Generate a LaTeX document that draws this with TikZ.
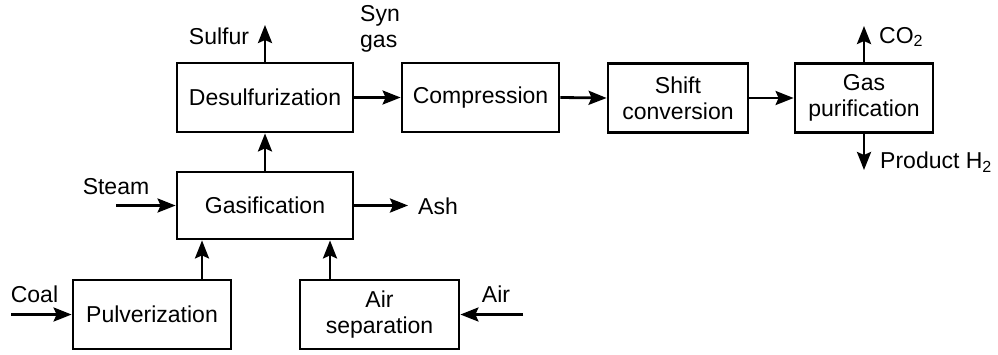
\documentclass[tikz,border=0pt]{standalone}
\usepackage{fontspec}
\setmainfont{Liberation Sans}
\usetikzlibrary{arrows.meta}
\begin{document}
\begin{tikzpicture}[x=1pt,y=-1pt,
  every node/.style={font=\fontsize{23}{26}\selectfont, inner sep=0pt},
  procbox/.style={draw, line width=2.8pt, align=center, minimum width=#1},
  arr/.style={line width=2.8pt, -{Stealth[length=18pt,width=14pt,inset=3pt]}},
  lbl/.style={align=left}]
\useasboundingbox (0,0) rectangle (998,354);
% boxes
\node[procbox=176pt, minimum height=69pt] (desulf) at (265,97.5) {Desulfurization};
\node[procbox=157pt, minimum height=69pt] (comp) at (480.5,97.5) {Compression};
\node[procbox=140pt, minimum height=69pt] (shift) at (678,98) {Shift\\conversion};
\node[procbox=138pt, minimum height=69pt] (gaspur) at (864,98) {Gas\\purification};
\node[procbox=176pt, minimum height=67pt] (gasif) at (265,205.5) {Gasification};
\node[procbox=158pt, minimum height=69pt] (pulv) at (152,314.5) {Pulverization};
\node[procbox=159pt, minimum height=69pt] (airsep) at (379.5,314.5) {Air\\separation};
% free ends
\coordinate (sulfurtop) at (265,25);
\coordinate (co2top) at (864,26);
\coordinate (h2bot) at (864,170);
\coordinate (steamstart) at (116,205.5);
\coordinate (ashend) at (408,205.5);
\coordinate (coalstart) at (11,314.5);
\coordinate (airstart) at (523,314.5);
\coordinate (px) at (202,0);
\coordinate (ax) at (330,0);
% labels
\node (sulfur) at (219,36) {Sulfur};
\node[lbl, anchor=west] (syngas) at (360,29) {Syn\\gas};
\node[anchor=west] (co2) at (879,37) {CO\textsubscript{2}};
\node[anchor=west] (h2) at (880,162) {Product H\textsubscript{2}};
\node (steam) at (116,187) {Steam};
\node[anchor=west] (ash) at (418,206) {Ash};
\node (coal) at (34.5,294) {Coal};
\node (air) at (496,294) {Air};
% connectors
\draw[arr] (gasif.north) -- (desulf.south);
\draw[arr] (desulf.north) -- (sulfurtop);
\draw[arr] (desulf.east) -- (comp.west);
\draw[arr] (comp.east) -- (shift.west);
\draw[arr] (shift.east) -- (gaspur.west);
\draw[arr] (gaspur.north) -- (co2top);
\draw[arr] (gaspur.south) -- (h2bot);
\draw[arr] (steamstart) -- (gasif.west);
\draw[arr] (gasif.east) -- (ashend);
\draw[arr] (coalstart) -- (pulv.west);
\draw[arr] (airstart) -- (airsep.east);
\draw[arr] (pulv.north -| px) -- (gasif.south -| px);
\draw[arr] (airsep.north -| ax) -- (gasif.south -| ax);
\end{tikzpicture}
\end{document}
